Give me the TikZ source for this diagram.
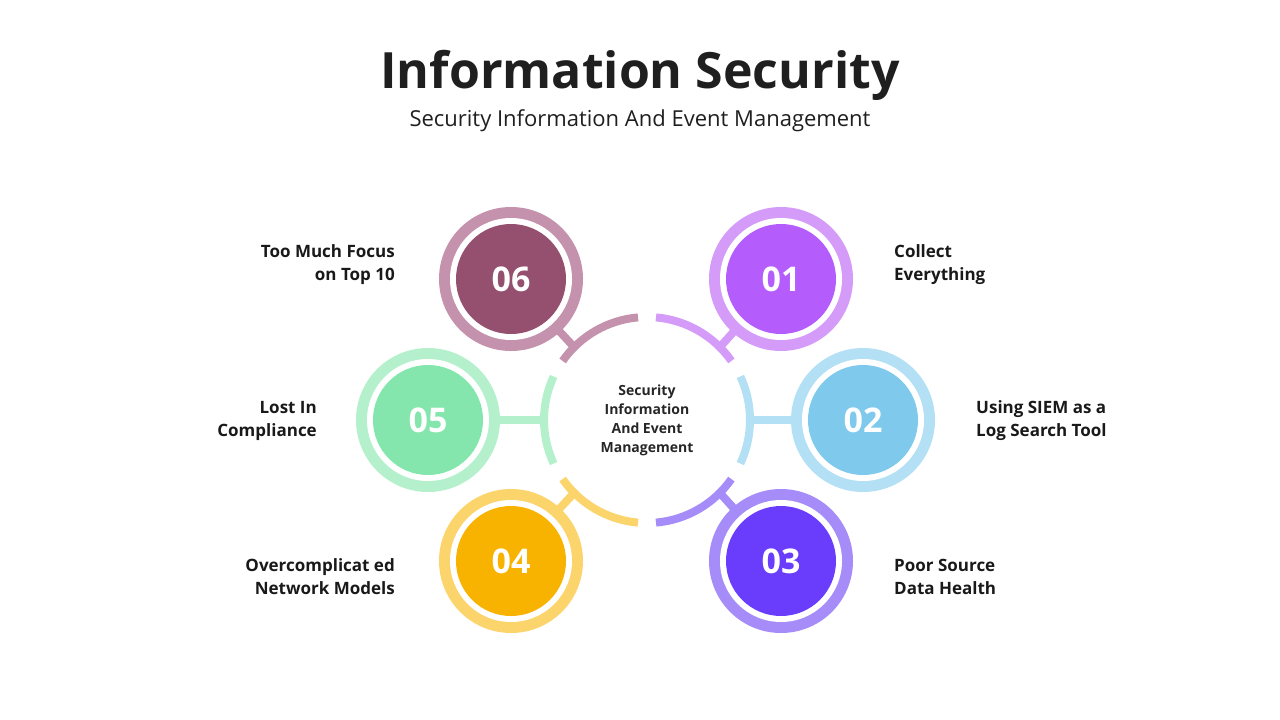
\documentclass[tikz,border=0pt]{standalone}
\usepackage{fontspec}
\setmainfont{Open Sans}
\begin{document}
\begin{tikzpicture}[x=1pt,y=-1pt,
  lbl/.style={font=\bfseries\fontsize{17}{23}\selectfont, text=black!90, align=left, inner sep=0},
  lbr/.style={font=\bfseries\fontsize{17}{23}\selectfont, text=black!90, align=right, inner sep=0},
  num/.style={circle, inner sep=0, minimum size=110, text=white, font=\bfseries\fontsize{34}{40}\selectfont}]
\useasboundingbox (0,0) rectangle (1280,720);
\definecolor{d1}{HTML}{B45CFC}\definecolor{l1}{HTML}{D49CF8}
\definecolor{d2}{HTML}{7FC9EC}\definecolor{l2}{HTML}{B3E0F4}
\definecolor{d3}{HTML}{6A3CFC}\definecolor{l3}{HTML}{A68CF8}
\definecolor{d4}{HTML}{F8B200}\definecolor{l4}{HTML}{FCD46C}
\definecolor{d5}{HTML}{84E6AC}\definecolor{l5}{HTML}{B4F0CC}
\definecolor{d6}{HTML}{94506E}\definecolor{l6}{HTML}{C492AC}
\node[font=\bfseries\fontsize{50}{56}\selectfont, text=black!88] (title) at (640,75) {Information Security};
\node[font=\fontsize{22}{26}\selectfont, text=black!88] (sub) at (640,121) {Security Information And Event Management};
\coordinate (C) at (647,420);
% ring arcs (visual angle a -> tikz -a)
\foreach \a/\c in {35/l1,95/l6,155/l5,215/l4,275/l3,335/l2}{
  \draw[\c, line width=8] (C) ++(-\a:103) arc[start angle=-\a, end angle=-\a-50, radius=103];
}
\node[font=\bfseries\fontsize{14}{19}\selectfont, text=black!85, align=center] (ct) at (C) {Security\\Information\\And Event\\Management};
% circles
\foreach \n/\x/\y/\a in {1/781/279/45,2/863/420/0,3/781/561/-45,4/511/561/-135,5/428/420/180,6/511/279/135}{
  \coordinate (p\n) at (\x,\y);
  \draw[l\n, line width=8] (C) ++(-\a:103) -- (p\n);
  \fill[l\n] (p\n) circle (72);
  \fill[white] (p\n) circle (61);
  \node[num, fill=d\n] (c\n) at (p\n) {0\n};
}
\node[lbl, anchor=west] (t1) at (894,265) {Collect\\Everything};
\node[lbl, anchor=west] (t2) at (976,421) {Using SIEM as a\\Log Search Tool};
\node[lbl, anchor=west] (t3) at (894,577) {Poor Source\\Data Health};
\node[lbr, anchor=east] (t4) at (395,577) {Overcomplicat ed\\Network Models};
\node[lbr, anchor=east] (t5) at (317,421) {Lost In\\Compliance};
\node[lbr, anchor=east] (t6) at (395,265) {Too Much Focus\\on Top 10};
\end{tikzpicture}
\end{document}
